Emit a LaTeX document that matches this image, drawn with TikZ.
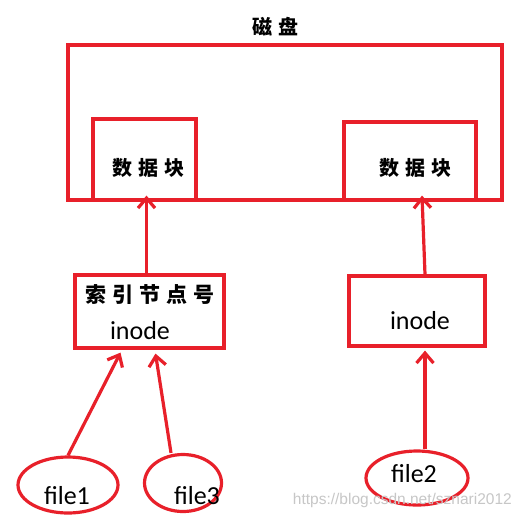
\documentclass[tikz,border=0pt]{standalone}
\usepackage{fontspec}
\setmainfont{Carlito}
\newfontfamily\cjk{Noto Sans CJK SC}
\newfontfamily\wmfont{Liberation Sans}
\usetikzlibrary{arrows.meta,shapes.geometric}
\definecolor{dred}{HTML}{E8202A}
\tikzset{
  box/.style={draw=dred, line width=3.2pt, rectangle, inner sep=0pt},
  oval/.style={draw=dred, line width=3.2pt, ellipse, inner sep=0pt},
  arr/.style={draw=dred, line width=3.2pt, -{Straight Barb[length=10pt,width=17pt,line width=3.2pt]}},
  cjklbl/.style={font=\cjk\bfseries\fontsize{20}{24}\selectfont, text=black, inner sep=0pt},
  latlbl/.style={font=\fontsize{26}{30}\selectfont, text=black, inner sep=0pt},
}
\newcommand{\cjksp}{\hspace{6pt}}
\begin{document}
\begin{tikzpicture}[x=1pt,y=-1pt]
\path[use as bounding box, fill=white] (0,0) rectangle (527,520);
% title
\node[cjklbl] (title) at (275,27) {磁\cjksp 盘};
% disk
\node[box, minimum width=434pt, minimum height=155pt] (disk) at (285,122.5) {};
% data blocks
\node[box, minimum width=103pt, minimum height=81pt] (ldb) at (144.5,159.5) {};
\node[box, minimum width=132pt, minimum height=78pt] (rdb) at (410,161) {};
\node[cjklbl] (ldbt) at (148,168) {数\cjksp 据\cjksp 块};
\node[cjklbl] (rdbt) at (415,168) {数\cjksp 据\cjksp 块};
% inode boxes
\node[box, minimum width=149pt, minimum height=73pt] (li) at (149.5,311.5) {};
\node[box, minimum width=136pt, minimum height=70pt] (ri) at (417,311) {};
\node[cjklbl, font=\cjk\bfseries\fontsize{21}{24}\selectfont] (lit) at (150,295) {索\cjksp 引\cjksp 节\cjksp 点\cjksp 号};
\node[latlbl] (lin) at (140,331) {inode};
\node[latlbl] (rin) at (420,321) {inode};
% file ellipses
\node[oval, minimum width=100pt, minimum height=56pt] (f1) at (68,485) {};
\node[oval, minimum width=77pt, minimum height=57pt] (f3) at (183,483) {};
\node[oval, minimum width=102pt, minimum height=54pt] (f2) at (417,478) {};
\node[latlbl] (f1t) at (67,496) {file1};
\node[latlbl] (f3t) at (197,496) {file3};
\node[latlbl] (f2t) at (414,474) {file2};
% arrows
\draw[arr] ([xshift=-3pt]li.north) -- ([xshift=2pt,yshift=6pt]ldb.south);
\draw[arr] ([xshift=8pt]ri.north) -- ([xshift=12pt,yshift=6pt]rdb.south);
\draw[arr] (f1.north) -- ([xshift=-29pt,yshift=-3pt]li.south);
\draw[arr] ([xshift=-12pt]f3.north) -- ([xshift=6pt,yshift=-4pt]li.south);
\draw[arr] ([xshift=8pt]f2.north) -- ([xshift=8pt,yshift=-3pt]ri.south);
% watermark
\node[font=\wmfont\fontsize{15.5}{18}\selectfont, text=black!22, anchor=east, inner sep=0pt] (wm) at (512,500) {https://blog.csdn.net/sznari2012};
\end{tikzpicture}
\end{document}
